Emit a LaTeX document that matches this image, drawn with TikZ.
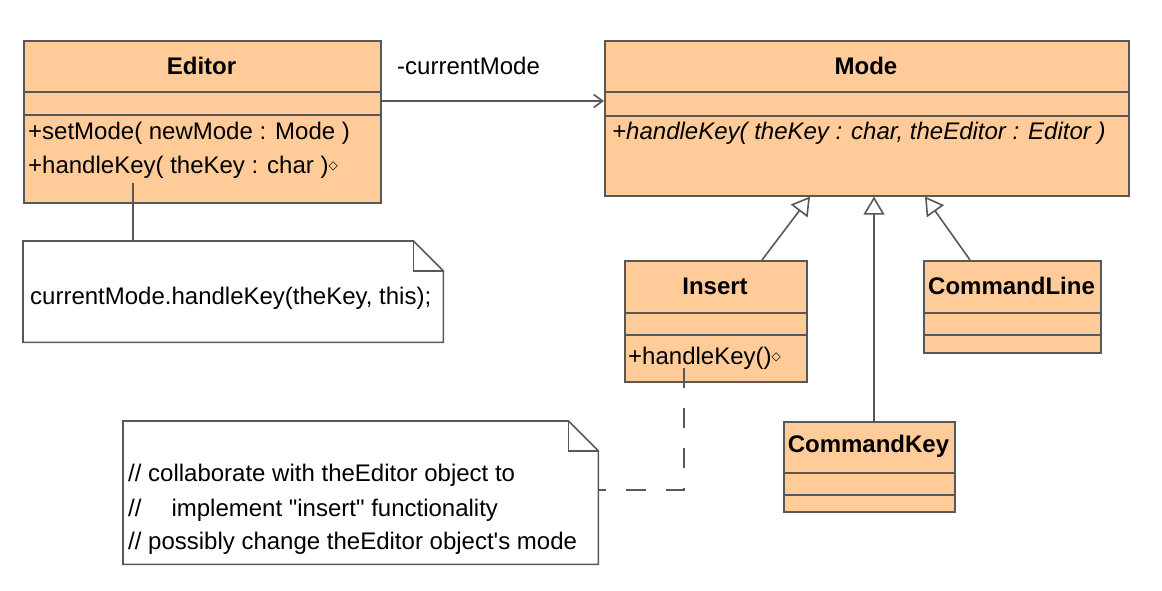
\documentclass[tikz,border=0pt]{standalone}
\usepackage{fontspec}
\newfontfamily\uml{Liberation Sans}
\newfontfamily\symfont{DejaVu Sans}
\usetikzlibrary{arrows.meta}
\definecolor{peach}{RGB}{255,204,153}
\definecolor{umlline}{RGB}{88,88,88}
\newcommand{\opdiamond}{\raisebox{4pt}{\symfont\fontsize{12}{12}\selectfont ◇}}
\begin{document}
\begin{tikzpicture}[x=1pt,y=-1pt,
  classbox/.style={draw=umlline, fill=peach, line width=1.6pt, anchor=north west, inner sep=0pt},
  comp/.style={draw=umlline, line width=1.6pt},
  title/.style={font=\uml\fontsize{24}{28}\selectfont\bfseries, inner sep=0pt},
  member/.style={font=\uml\fontsize{24}{28}\selectfont, anchor=west, inner sep=0pt},
  notebox/.style={anchor=north west, inner sep=0pt, draw=none},
  noteline/.style={draw=umlline, line width=1.6pt, line join=miter},
  conn/.style={draw=umlline, line width=1.6pt},
  gen/.style={conn, -{Triangle[open, length=18pt, width=21pt, fill=white]}},
  assoc/.style={conn, -{Straight Barb[length=9pt, width=13pt]}},
  dep/.style={conn, dash pattern=on 20pt off 20pt},
]
\useasboundingbox (0,0) rectangle (1162,590);

% Editor
\node[classbox, minimum width=357pt, minimum height=162pt] (editor) at (23,40) {};
\draw[comp] (editor.west |- 0,92) -- (editor.east |- 0,92);
\draw[comp] (editor.west |- 0,115) -- (editor.east |- 0,115);
\node[title] (editorT) at (201.5,66) {Editor};
\node[member] (editorM1) at (28,133) {+setMode( newMode : Mode )};
\node[member] (editorM2) at (28,167) {+handleKey( theKey : char )\opdiamond};

% Mode
\node[classbox, minimum width=524pt, minimum height=155pt] (mode) at (604,40) {};
\draw[comp] (mode.west |- 0,92) -- (mode.east |- 0,92);
\draw[comp] (mode.west |- 0,116) -- (mode.east |- 0,116);
\node[title] (modeT) at (866,66) {Mode};
\node[member] (modeM1) at (612,133) {\itshape +handleKey( theKey : char, theEditor : Editor )};

% Insert
\node[classbox, minimum width=182pt, minimum height=121pt] (insert) at (624,260) {};
\draw[comp] (insert.west |- 0,313) -- (insert.east |- 0,313);
\draw[comp] (insert.west |- 0,335) -- (insert.east |- 0,335);
\node[title] (insertT) at (715,286) {Insert};
\node[member] (insertM1) at (628,358) {+handleKey()\opdiamond};

% CommandLine
\node[classbox, minimum width=177pt, minimum height=92pt] (cline) at (923,260) {};
\draw[comp] (cline.west |- 0,313) -- (cline.east |- 0,313);
\draw[comp] (cline.west |- 0,335) -- (cline.east |- 0,335);
\node[title] (clineT) at (1011.5,286) {CommandLine};

% CommandKey
\node[classbox, minimum width=171pt, minimum height=90pt] (ckey) at (783,421) {};
\draw[comp] (ckey.west |- 0,473) -- (ckey.east |- 0,473);
\draw[comp] (ckey.west |- 0,495) -- (ckey.east |- 0,495);
\node[title] (ckeyT) at (868.5,446) {CommandKey};

% Association
\draw[assoc] (editor.east |- 0,101) -- (mode.west |- 0,101);
\node[member] (assocL) at (397,66) {-currentMode};

% Generalizations
\draw[gen] (insert.north -| 762,0) -- (mode.south -| 810,0);
\draw[gen] (ckey.north -| 874,0) -- (mode.south -| 874,0);
\draw[gen] (cline.north -| 970,0) -- (mode.south -| 925,0);

% Note 1
\node[notebox, minimum width=420pt, minimum height=101pt] (note1) at (23,241) {};
\draw[noteline, fill=white] (note1.north west) -- ([xshift=-30pt]note1.north east) -- ([yshift=-30pt]note1.north east) -- (note1.south east) -- (note1.south west) -- cycle;
\draw[noteline] ([xshift=-30pt]note1.north east) |- ([yshift=-30pt]note1.north east);
\node[member] (note1T) at (30,298) {currentMode.handleKey(theKey, this);};
\coordinate (eanchor) at (133,183);
\draw[conn] (eanchor) -- (eanchor |- note1.north);

% Note 2
\node[notebox, minimum width=475pt, minimum height=143pt] (note2) at (123,421) {};
\draw[noteline, fill=white] (note2.north west) -- ([xshift=-30pt]note2.north east) -- ([yshift=-30pt]note2.north east) -- (note2.south east) -- (note2.south west) -- cycle;
\draw[noteline] ([xshift=-30pt]note2.north east) |- ([yshift=-30pt]note2.north east);
\node[member] (note2L1) at (128,475) {// collaborate with theEditor object to};
\node[member] (note2L2) at (128,510) {//\hspace{30pt}implement "insert" functionality};
\node[member] (note2L3) at (128,543) {// possibly change theEditor object's mode};
\coordinate (ianchor) at (684,368);
\draw[dep] (ianchor) |- (note2.east |- 0,490);
\end{tikzpicture}
\end{document}
